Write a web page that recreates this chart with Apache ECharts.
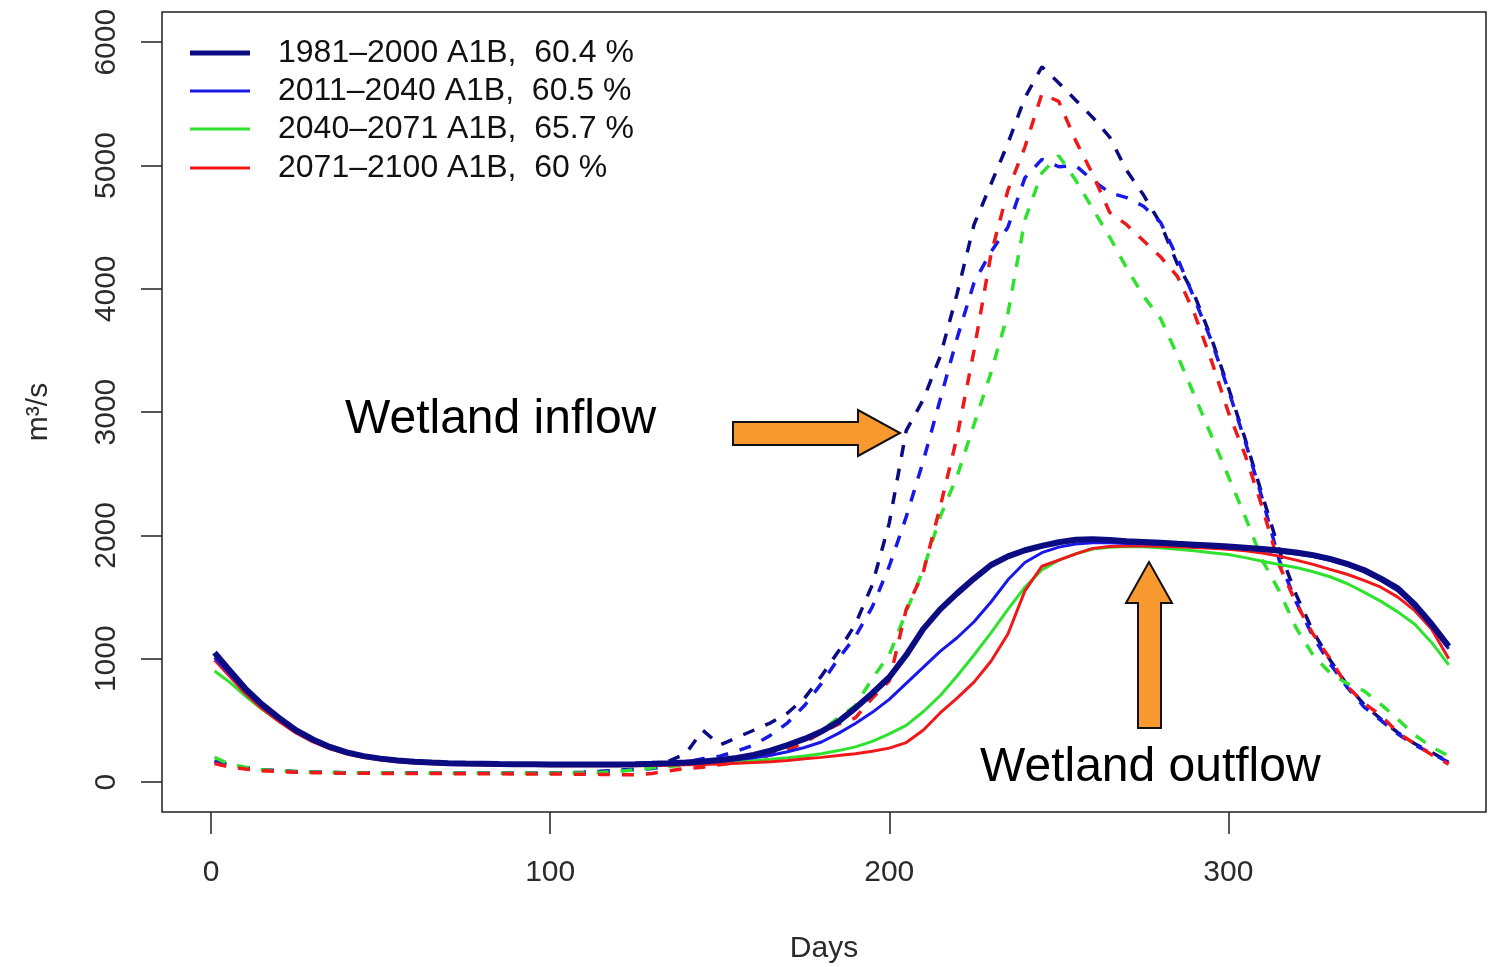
<!DOCTYPE html>
<html>
<head>
<meta charset="utf-8">
<title>Wetland inflow / outflow</title>
<script src="https://cdn.jsdelivr.net/npm/echarts@6.0.0/dist/echarts.min.js"></script>
<style>
  html, body { margin: 0; padding: 0; background: #fff; }
  #main { width: 1489px; height: 967px; }
</style>
</head>
<body>
<div id="main"></div>
<script>
// 数据 (days of year, m3/s)
var days = [1, 5, 10, 15, 20, 25, 30, 35, 40, 45,
    50, 55, 60, 65, 70, 75, 80, 85, 90, 95,
    100, 105, 110, 115, 120, 125, 130, 135, 140, 145,
    150, 155, 160, 165, 170, 175, 180, 185, 190, 195,
    200, 205, 210, 215, 220, 225, 230, 235, 240, 245,
    250, 255, 260, 265, 270, 275, 280, 285, 290, 295,
    300, 305, 310, 315, 320, 325, 330, 335, 340, 345,
    350, 355, 360, 365]

// wetland outflow (solid)
var outNavy = [1050, 920, 760, 630, 520, 420, 345, 285, 240, 210,
    190, 175, 165, 158, 153, 150, 148, 146, 145, 144,
    143, 143, 142, 142, 143, 145, 148, 152, 158, 166,
    178, 195, 220, 255, 300, 350, 410, 490, 600, 720,
    850, 1030, 1240, 1400, 1530, 1650, 1760, 1830, 1880, 1915,
    1945, 1965, 1970, 1962, 1952, 1946, 1940, 1932, 1925, 1918,
    1910, 1900, 1890, 1878, 1862, 1840, 1810, 1770, 1720, 1650,
    1570, 1440, 1280, 1100]
var outBlue = [1010, 890, 740, 615, 510, 415, 340, 282, 238, 208,
    188, 173, 163, 156, 151, 148, 146, 144, 143, 142,
    141, 141, 140, 140, 141, 143, 146, 149, 154, 160,
    168, 180, 196, 218, 245, 280, 325, 395, 475, 565,
    670, 800, 930, 1060, 1170, 1300, 1460, 1640, 1780, 1860,
    1905, 1930, 1940, 1940, 1935, 1932, 1928, 1922, 1916, 1908,
    1900, 1890, 1880, 1866, 1850, 1828, 1798, 1757, 1705, 1635,
    1550, 1420, 1260, 1080]
var outGreen = [900, 820, 700, 590, 495, 410, 340, 285, 243, 212,
    192, 178, 168, 160, 155, 150, 147, 145, 143, 142,
    141, 140, 140, 140, 140, 141, 143, 146, 150, 155,
    160, 167, 175, 185, 197, 212, 230, 255, 285, 330,
    390, 460, 570, 700, 860, 1030, 1210, 1400, 1580, 1720,
    1800, 1850, 1890, 1905, 1910, 1908, 1900, 1888, 1875, 1860,
    1845, 1820, 1790, 1765, 1740, 1705, 1665, 1610, 1540, 1465,
    1380, 1280, 1130, 950]
var outRed = [990, 870, 720, 595, 490, 398, 325, 270, 228, 198,
    178, 164, 155, 148, 143, 140, 138, 136, 135, 134,
    133, 132, 132, 132, 132, 133, 135, 137, 140, 143,
    147, 152, 158, 165, 175, 188, 200, 215, 230, 250,
    275, 320, 420, 560, 680, 810, 980, 1200, 1550, 1750,
    1800, 1850, 1895, 1910, 1915, 1915, 1912, 1908, 1903, 1897,
    1888, 1875, 1858, 1832, 1800, 1765, 1725, 1685, 1635, 1580,
    1500, 1390, 1240, 1000]

// wetland inflow (dashed)
var inNavy = [170, 140, 115, 100, 90, 85, 80, 78, 76, 75,
    74, 73, 73, 72, 72, 72, 72, 72, 72, 72,
    73, 75, 80, 88, 95, 105, 130, 170, 230, 420,
    300, 360, 420, 480, 560, 680, 860, 1060, 1280, 1600,
    2100, 2850, 3100, 3450, 3960, 4520, 4850, 5180, 5550, 5800,
    5670, 5530, 5390, 5230, 4960, 4760, 4530, 4200, 3950, 3600,
    3200, 2780, 2330, 1880, 1520, 1220, 990, 790, 630, 510,
    400, 310, 240, 165]
var inBlue = [165, 138, 114, 100, 90, 84, 80, 77, 75, 74,
    73, 73, 72, 72, 72, 72, 72, 72, 72, 72,
    73, 74, 78, 84, 92, 100, 110, 130, 160, 190,
    210, 250, 300, 380, 480, 620, 800, 1000, 1180, 1420,
    1750, 2150, 2600, 3100, 3600, 4050, 4300, 4500, 4900, 5050,
    4990, 5000, 4880, 4780, 4740, 4670, 4540, 4250, 3920, 3580,
    3180, 2760, 2300, 1800, 1460, 1180, 960, 770, 610, 500,
    390, 300, 230, 160]
var inGreen = [200, 150, 120, 100, 90, 85, 80, 77, 75, 74,
    73, 72, 72, 72, 72, 72, 72, 72, 72, 72,
    72, 73, 75, 78, 85, 100, 115, 125, 140, 150,
    160, 175, 190, 220, 260, 330, 420, 520, 620, 840,
    1030, 1380, 1720, 2150, 2480, 2900, 3320, 3800, 4560, 4940,
    5080, 4880, 4650, 4420, 4170, 3940, 3760, 3460, 3135, 2810,
    2480, 2150, 1800, 1550, 1250, 1030, 884, 800, 740, 630,
    510, 380, 285, 210]
var inRed = [150, 125, 105, 92, 85, 80, 76, 74, 72, 71,
    70, 70, 69, 69, 68, 68, 67, 67, 66, 66,
    65, 64, 63, 62, 60, 58, 70, 90, 110, 120,
    140, 160, 185, 220, 260, 320, 400, 470, 520, 680,
    820, 1400, 1700, 2230, 2800, 3500, 4280, 4800, 5150, 5580,
    5520, 5200, 4930, 4620, 4520, 4390, 4260, 4100, 3800, 3420,
    3000, 2650, 2230, 1760, 1450, 1200, 1000, 780, 640, 540,
    400, 310, 220, 145]

var names = ['1981\u20132000 A1B,  60.4 %', '2011\u20132040 A1B,  60.5 %',
    '2040\u20132071 A1B,  65.7 %', '2071\u20132100 A1B,  60 %']
var xTicks = [0, 100, 200, 300]
var yTicks = [0, 1000, 2000, 3000, 4000, 5000, 6000]

// 常量
var colors = ['#0c0c82', '#1818e8', '#2ee22e', '#f01818']
var font = 'Liberation Sans, Arial, Helvetica, sans-serif'
var orange = '#f8992f'
var axisColor = '#2a2a2a'

function pairs(vals) {
    return days.map(function (d, i) { return [d, vals[i]] })
}

var inflows = [inNavy, inBlue, inGreen, inRed]
var outflows = [outNavy, outBlue, outGreen, outRed]
var series = []
// dashed inflow first, solid outflow on top
inflows.forEach(function (vals, i) {
    series.push({
        name: 'inflow ' + i,
        type: 'line',
        data: pairs(vals),
        symbol: 'none',
        color: colors[i],
        lineStyle: { width: 3.5, type: [12, 12], color: colors[i] },
        z: 2
    })
})
;[2, 3, 1, 0].forEach(function (i) {
    series.push({
        name: names[i],
        type: 'line',
        data: pairs(outflows[i]),
        symbol: 'none',
        color: colors[i],
        lineStyle: { width: i === 0 ? 6 : 3, color: colors[i] },
        z: 3
    })
})

// legend rows (one component per row so the navy sample can be thicker)
var rowY = [52, 90, 128, 167]
var legends = names.map(function (n, i) {
    return {
        data: [n],
        left: 190,
        top: rowY[i] - 15,
        padding: 0,
        icon: 'rect',
        itemWidth: 60,
        itemHeight: i === 0 ? 5 : 3,
        selectedMode: false,
        textStyle: { fontSize: 32, lineHeight: 30, color: '#111', fontFamily: font, padding: [0, 0, 0, 23] }
    }
})

var option = {
    animation: false,
    backgroundColor: '#fff',
    grid: {
        left: 162, right: 3, top: 12, bottom: 155,
        outerBoundsMode: 'none',
        show: true, borderColor: '#222', borderWidth: 1.5
    },
    legend: legends,
    xAxis: {
        type: 'value',
        min: -14.5,
        max: 376,
        name: 'Days',
        nameLocation: 'middle',
        nameGap: 122,
        nameTextStyle: { fontSize: 30, color: axisColor, fontFamily: font },
        axisLine: { show: false, onZero: false },
        splitLine: { show: false },
        axisTick: { show: true, inside: false, length: 22, customValues: xTicks, lineStyle: { color: '#222', width: 1.5 } },
        axisLabel: {
            customValues: xTicks, margin: 46, fontSize: 30, color: axisColor, fontFamily: font,
            formatter: function (v) { return String(v) }
        }
    },
    yAxis: {
        type: 'value',
        min: -243,
        max: 6245,
        name: 'm\u00b3/s',
        nameLocation: 'middle',
        nameRotate: 90,
        nameGap: 108,
        nameTextStyle: { fontSize: 30, color: axisColor, fontFamily: font },
        axisLine: { show: false, onZero: false },
        splitLine: { show: false },
        axisTick: { show: true, inside: false, length: 21, customValues: yTicks, lineStyle: { color: '#222', width: 1.5 } },
        axisLabel: {
            customValues: yTicks, rotate: 90, margin: 40, fontSize: 30, color: axisColor, fontFamily: font,
            formatter: function (v) { return String(v) }
        }
    },
    graphic: [
        { type: 'text', x: 345, y: 420, z: 100,
          style: { text: 'Wetland inflow', fontSize: 48, fontFamily: font, fill: '#000', verticalAlign: 'middle' } },
        { type: 'text', x: 980, y: 768, z: 100,
          style: { text: 'Wetland outflow', fontSize: 48, fontFamily: font, fill: '#000', verticalAlign: 'middle' } },
        { type: 'polygon', z: 100,
          shape: { points: [[733, 422], [858, 422], [858, 410], [900, 433], [858, 456], [858, 445], [733, 445]] },
          style: { fill: orange, stroke: '#111', lineWidth: 2 } },
        { type: 'polygon', z: 100,
          shape: { points: [[1138, 728], [1138, 603], [1126, 603], [1149, 562], [1172, 603], [1161, 603], [1161, 728]] },
          style: { fill: orange, stroke: '#111', lineWidth: 2 } }
    ],
    series: series
}

var chart = echarts.init(document.getElementById('main'))
chart.setOption(option)
window.addEventListener('resize', function () {
    chart.resize()
})
</script>
</body>
</html>
